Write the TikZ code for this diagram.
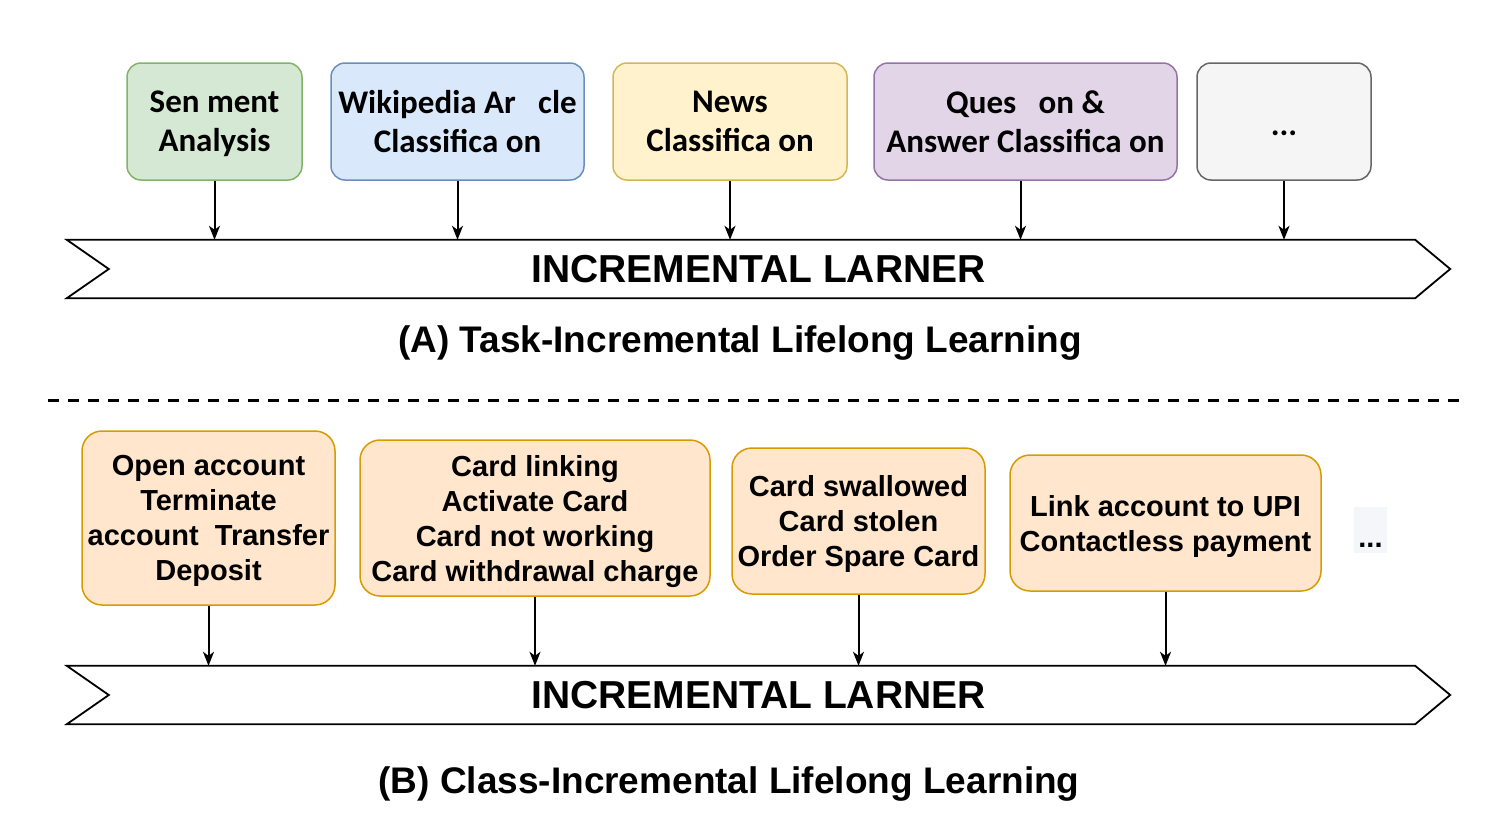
\documentclass[tikz,border=0pt]{standalone}
\usepackage{fontspec}
\setmainfont{Liberation Sans}
\newfontfamily\carlito{Carlito}
\usepackage{tikz}
\usetikzlibrary{arrows.meta,positioning,calc}
\usepackage{xcolor}
\definecolor{greenfill}{HTML}{D5E8D4}
\definecolor{greendraw}{HTML}{82B366}
\definecolor{bluefill}{HTML}{DAE8FC}
\definecolor{bluedraw}{HTML}{6C8EBF}
\definecolor{yellowfill}{HTML}{FFF2CC}
\definecolor{yellowdraw}{HTML}{D6B656}
\definecolor{purplefill}{HTML}{E1D5E7}
\definecolor{purpledraw}{HTML}{9673A6}
\definecolor{grayfill}{HTML}{F5F5F5}
\definecolor{graydraw}{HTML}{666666}
\definecolor{orangefill}{HTML}{FFE6CC}
\definecolor{orangedraw}{HTML}{D79B00}
\definecolor{faintfill}{HTML}{F4F6FA}

\begin{document}
\begin{tikzpicture}[x=1pt, y=-1pt,
    task/.style={rectangle, rounded corners=14pt, line width=1.5pt, inner sep=0pt, align=center, text depth=-3pt, font=\carlito\bfseries\fontsize{33}{39}\selectfont},
    classbox/.style={rectangle, rounded corners=20pt, draw=orangedraw, fill=orangefill, line width=1.5pt, inner sep=0pt, align=center, text depth=-3pt, font=\bfseries\fontsize{29}{35}\selectfont},
    learner/.style={rectangle, minimum width=1383pt, minimum height=58pt, inner sep=0pt, font=\bfseries\fontsize{39}{46}\selectfont},
    chevron/.style={draw=black, line width=1.8pt, line join=miter},
    caption/.style={font=\bfseries\fontsize{37}{44}\selectfont},
    arrow/.style={-{Stealth[length=14pt,width=11pt,inset=4pt]}, line width=2pt}
]
\useasboundingbox (0,0) rectangle (1507,825);

% Task boxes
\node (sentiment) [task, draw=greendraw, fill=greenfill, minimum width=175pt, minimum height=117pt] at (214.5,121.5) {Sen ment\\Analysis};
\node (wikipedia) [task, draw=bluedraw, fill=bluefill, minimum width=253pt, minimum height=117pt] at (457.5,121.5) {Wikipedia Ar\ \ \ cle\\Classifica on};
\node (news) [task, draw=yellowdraw, fill=yellowfill, minimum width=234pt, minimum height=117pt] at (730,121.5) {News\\Classifica on};
\node (question) [task, draw=purpledraw, fill=purplefill, minimum width=303pt, minimum height=117pt] at (1025.5,121.5) {Ques\ \ \ on \&\\Answer Classifica on};
\node (moretask) [task, draw=graydraw, fill=grayfill, minimum width=174pt, minimum height=117pt] at (1284,121.5) {\rule{0pt}{27pt}...};

% Learner A
\node (learnerA) [learner] at (758.5,269) {INCREMENTAL LARNER};
\draw[chevron] (learnerA.north west) -- ($(learnerA.north east)+(-35,0)$) -- (learnerA.east) -- ($(learnerA.south east)+(-35,0)$) -- (learnerA.south west) -- ($(learnerA.west)+(42,0)$) -- cycle;
\node (captionA) [caption] at (740,343) {(A) Task-Incremental Lifelong Learning};

% Connections A
\draw[arrow] (sentiment) -- (sentiment |- learnerA.north);
\draw[arrow] (wikipedia) -- (wikipedia |- learnerA.north);
\draw[arrow] (news) -- (news |- learnerA.north);
\draw[arrow] ($(question.south)+(-5,0)$) -- ($(question.south |- learnerA.north)+(-5,0)$);
\draw[arrow] (moretask) -- (moretask |- learnerA.north);

% Separator
\coordinate (sepleft) at (48,400);
\coordinate (sepright) at (1460,400);
\draw[line width=3pt, dash pattern=on 11pt off 9pt] (sepleft) -- (sepright);

% Class boxes
\node (account) [classbox, minimum width=253pt, minimum height=174pt] at (208.5,518) {Open account\\Terminate\\account\ \ Transfer\\Deposit};
\node (card) [classbox, minimum width=350pt, minimum height=156pt] at (535,518) {Card linking\\Activate Card\\Card not working\\Card withdrawal charge};
\node (stolen) [classbox, minimum width=253pt, minimum height=146pt] at (858.5,521) {Card swallowed\\Card stolen\\Order Spare Card};
\node (payment) [classbox, minimum width=311pt, minimum height=136pt] at (1165.5,523) {Link account to UPI\\Contactless payment};
\node (moreclass) [fill=faintfill, minimum width=33pt, minimum height=46pt, inner sep=0pt, font=\bfseries\fontsize{29}{35}\selectfont] at (1370.5,530) {\rule{0pt}{34pt}...};

% Learner B
\node (learnerB) [learner] at (758.5,695) {INCREMENTAL LARNER};
\draw[chevron] (learnerB.north west) -- ($(learnerB.north east)+(-35,0)$) -- (learnerB.east) -- ($(learnerB.south east)+(-35,0)$) -- (learnerB.south west) -- ($(learnerB.west)+(42,0)$) -- cycle;
\node (captionB) [caption] at (729,784) {(B) Class-Incremental Lifelong Learning};

% Connections B
\draw[arrow] (account) -- (account |- learnerB.north);
\draw[arrow] (card) -- (card |- learnerB.north);
\draw[arrow] (stolen) -- (stolen |- learnerB.north);
\draw[arrow] (payment) -- (payment |- learnerB.north);

\end{tikzpicture}
\end{document}
